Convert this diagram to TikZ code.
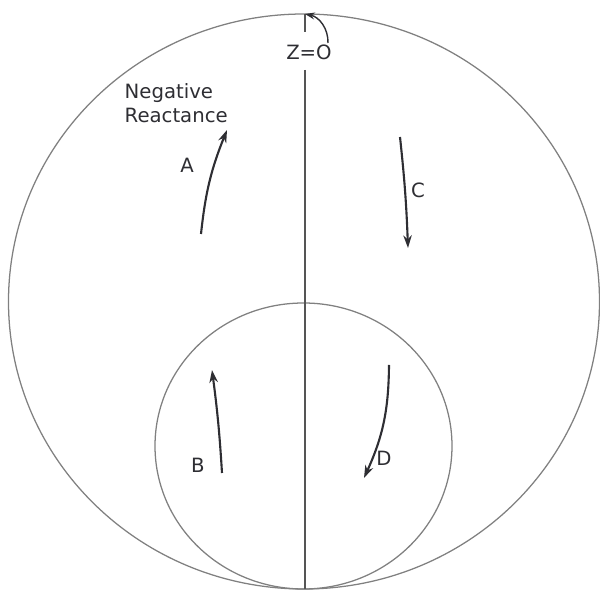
\documentclass[tikz,border=0pt]{standalone}
\usepackage{fontspec}
\setmainfont{DejaVu Sans}
\usetikzlibrary{arrows.meta,positioning,calc}
\definecolor{ringgrey}{HTML}{808080}
\definecolor{axisgrey}{HTML}{555555}
\definecolor{inkdark}{HTML}{2E2E33}

\begin{document}
\begin{tikzpicture}[
  x=0.025cm, y=0.025cm,
  ring/.style={draw=ringgrey, line width=0.9pt},
  axis/.style={draw=axisgrey, line width=1pt},
  flow/.style={-{Stealth[length=9pt,width=6pt]}, inkdark, line width=1.5pt},
  tag/.style={font=\fontsize{14}{17}\selectfont, text=inkdark, inner sep=1pt},
]
  \useasboundingbox (0,0) rectangle (600,591);

  %% ---- Circles ----
  \draw[ring] (304,289.5) ellipse [x radius=295.5, y radius=287.5];
  \draw[ring] (303.5,145) ellipse [x radius=148.5, y radius=143];

  %% ---- Vertical axis (broken by the Z=O label) ----
  \coordinate (top) at (305,577);
  \coordinate (bot) at (305,2);
  \coordinate (gapt) at (305,559);
  \coordinate (gapb) at (305,521);
  \draw[axis] (top) -- (gapt);
  \draw[axis] (gapb) -- (bot);

  %% ---- Labels ----
  \node[tag] (zero) at (309,539) {Z=O};
  \node[tag, anchor=west, align=left] (neg) at (123,488) {Negative\\Reactance};
  \node[tag] (la) at (187,426) {A};
  \node[tag] (lc) at (418,401) {C};
  \node[tag] (lb) at (198,126) {B};
  \node[tag] (ld) at (384,133) {D};

  %% ---- Arrow ends ----
  \coordinate (a0) at (201,357);  \coordinate (a1) at (227,461);
  \coordinate (c0) at (400,454);  \coordinate (c1) at (408,343);
  \coordinate (b0) at (222,118);  \coordinate (b1) at (212,221);
  \coordinate (d0) at (389,226);  \coordinate (d1) at (364,113);
  \coordinate (z0) at (328,548);

  %% ---- Arrows ----
  \draw[flow] (a0) to[bend left=8] (a1);
  \draw[flow] (c0) to[bend left=2] (c1);
  \draw[flow] (b0) to[bend right=2] (b1);
  \draw[flow] (d0) to[bend left=12] (d1);
  \draw[-{Stealth[length=7pt,width=5pt]}, inkdark, line width=1pt]
    (z0) to[bend right=40] (top);

\end{tikzpicture}
\end{document}
